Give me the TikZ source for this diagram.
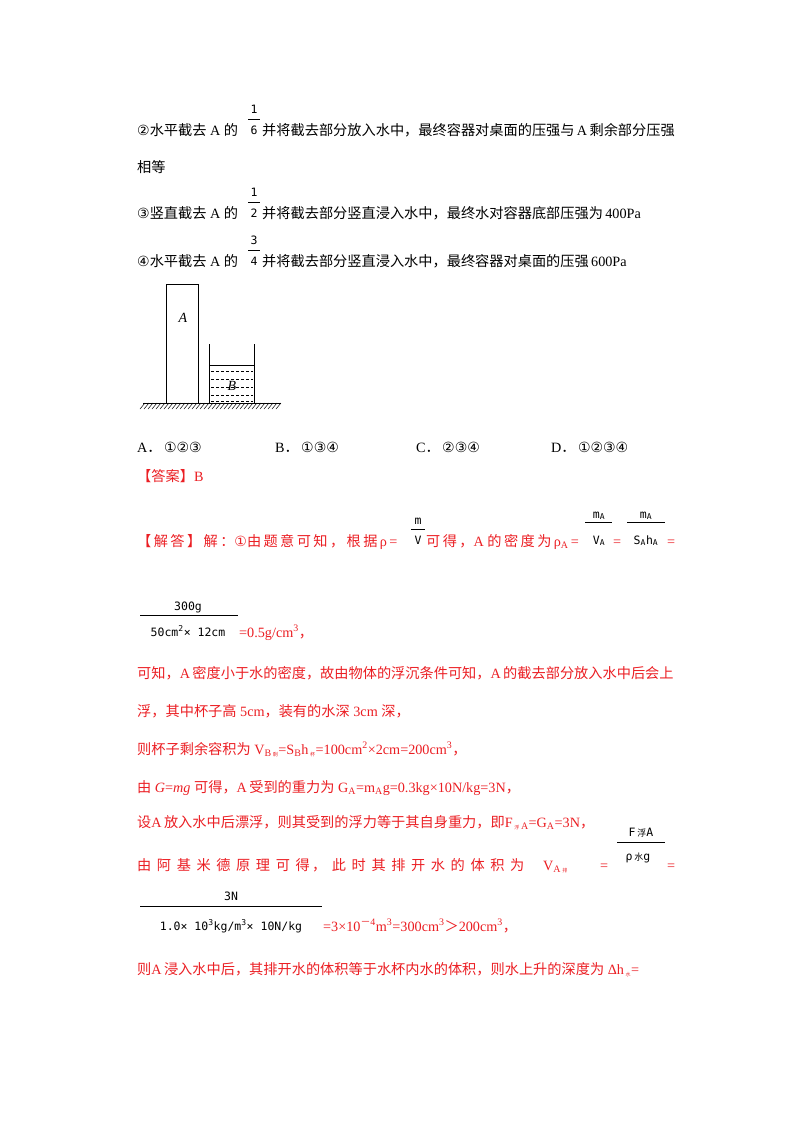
\documentclass[tikz,border=0pt]{standalone}
\usepackage{fontspec}
\setmainfont{Liberation Serif}
\newfontfamily\cjk{Noto Sans CJK SC}
\newfontfamily\cjkwide[LetterSpace=17]{Noto Sans CJK SC}
\newfontfamily\dejavu{DejaVu Sans}
\newfontfamily\mono{DejaVu Sans Mono}
\definecolor{ansred}{RGB}{235,30,35}
\newcommand{\zh}[1]{{\cjk #1}}
\newcommand{\zhw}[1]{{\cjkwide #1}}
\newcommand{\cn}[1]{{\dejavu\fontsize{14}{14}\selectfont #1}}

\begin{document}
\begin{tikzpicture}[x=1pt,y=-1pt,
  line/.style={anchor=base west,inner sep=0pt,font=\fontsize{14.2}{15}\selectfont},
  redline/.style={line,text=ansred},
  frac/.style={anchor=base,inner sep=0pt,font=\mono\fontsize{11.5}{12}\selectfont},
  fracbar/.style={line width=0.7pt}]
\useasboundingbox (0,0) rectangle (800,1132);

% question lines
\node[line] (q2a) at (137,135) {\cn{②}\zh{水平截去}\ A\ \zh{的}};
\node[line] (q2b) at (262,135) {\zh{并将截去部分放入水中，最终容器对桌面的压强与}\,A\,\zh{剩余部分压强}};
\node[line] (q2c) at (137,172) {\zh{相等}};
\node[line] (q3a) at (137,218) {\cn{③}\zh{竖直截去}\ A\ \zh{的}};
\node[line] (q3b) at (262,218) {\zh{并将截去部分竖直浸入水中，最终水对容器底部压强为}\,400Pa};
\node[line] (q4a) at (137,266) {\cn{④}\zh{水平截去}\ A\ \zh{的}};
\node[line] (q4b) at (262,266) {\zh{并将截去部分竖直浸入水中，最终容器对桌面的压强}\,600Pa};
\foreach \n/\d/\y in {1/6/135,1/2/218,3/4/266}{
  \node[frac] at (254,\y-22) {\n};
  \draw[fracbar] (248,\y-16) -- (260,\y-16);
  \node[frac] at (254,\y-1) {\d};
}

% figure
\draw[line width=0.8pt] (166,403) rectangle (198,284);
\node[font=\itshape\fontsize{14}{14}\selectfont] (labA) at (183,318) {A};
\draw[line width=0.8pt] (209,344) -- (209,403) -- (254,403) -- (254,344);
\draw[line width=0.8pt] (209,365) -- (254,365);
\foreach \y in {371,379,387,395,401}
  \draw[dash pattern=on 3pt off 2pt,line width=0.6pt] (211,\y) -- (253,\y);
\node[font=\itshape\fontsize{14}{14}\selectfont] (labB) at (232,386) {B};
\draw[line width=0.8pt] (143,403) -- (281,403);
\foreach \x in {145,149,...,281}
  \draw[line width=0.5pt] (\x,403) -- (\x-5,409);

% options
\node[line] (optA) at (137,452) {A\zh{．}\,\cn{①②③}};
\node[line] (optB) at (275,452) {B\zh{．}\,\cn{①③④}};
\node[line] (optC) at (416,452) {C\zh{．}\,\cn{②③④}};
\node[line] (optD) at (551,452) {D\zh{．}\,\cn{①②③④}};
\node[redline] (ans) at (137,481) {\zh{【答案】}B};

% solution
\node[redline] (s1a) at (137,546) {\zhw{【解答】解：}\cn{①}\zhw{由题意可知，根据}\,ρ\,=};
\node[frac] at (418,524) {m};
\draw[fracbar] (411,529) -- (425,529);
\node[frac] at (418,544) {V};
\node[redline] (s1b) at (426,546) {\zhw{可得，}A\ \zhw{的密度为}\,ρ\textsubscript{A}\,=};
\node[frac] at (599,518) {m\textsubscript{A}};
\draw[fracbar] (585,522) -- (612,522);
\node[frac] at (599,544) {V\textsubscript{A}};
\node[redline] (s1c) at (613,546) {=};
\node[frac] at (646,518) {m\textsubscript{A}};
\draw[fracbar] (627,522) -- (665,522);
\node[frac] at (646,544) {S\textsubscript{A}h\textsubscript{A}};
\node[redline] (s1d) at (667,546) {=};

\node[frac] (num1) at (188,610) {300g};
\draw[fracbar] (140,615) -- (238,615);
\node[frac] (den1) at (188,636) {50cm\textsuperscript{2}× 12cm};
\node[redline] (s2) at (239,637) {=0.5g/cm\textsuperscript{3}\zh{，}};

\node[redline] (s3) at (137,678) {\zh{可知，}A\,\zh{密度小于水的密度，故由物体的浮沉条件可知，}A\,\zh{的截去部分放入水中后会上}};
\node[redline] (s4) at (137,716) {\zh{浮，其中杯子高} 5cm\zh{，装有的水深} 3cm \zh{深，}};
\node[redline] (s5) at (137,754) {\zh{则杯子剩余容积为} V\textsubscript{B\,\zh{\tiny 剩}}=S\textsubscript{B}h\textsubscript{\,\zh{\tiny 杯}}=100cm\textsuperscript{2}×2cm=200cm\textsuperscript{3}\zh{，}};
\node[redline] (s6) at (137,792) {\zh{由} \textit{G}=\textit{mg} \zh{可得，}A\,\zh{受到的重力为} G\textsubscript{A}=m\textsubscript{A}g=0.3kg×10N/kg=3N\zh{，}};
\node[redline] (s7) at (137,827) {\zh{设}A\,\zh{放入水中后漂浮，则其受到的浮力等于其自身重力，即}F\textsubscript{\,\zh{\tiny 浮}\,A}=G\textsubscript{A}=3N\zh{，}};
\node[redline] (s8a) at (137,870) {\zhw{由\ 阿\ 基\ 米\ 德\ 原\ 理\ 可\ 得，\ 此\ 时\ 其\ 排\ 开\ 水\ 的\ 体\ 积\ 为}};
\node[redline] (s8b) at (543,870) {V\textsubscript{A\,\zh{\tiny 排}}};
\node[redline] (s8c) at (600,870) {=};
\node[frac] at (641,836) {F\,\zh{\fontsize{9}{9}\selectfont 浮}A};
\draw[fracbar] (617,842) -- (665,842);
\node[frac] at (638,860) {ρ\,\zh{\fontsize{9}{9}\selectfont 水}g};
\node[redline] (s8d) at (667,870) {=};

\node[frac] (num2) at (231,900) {3N};
\draw[fracbar] (140,906) -- (322,906);
\node[frac] (den2) at (231,930) {1.0× 10\textsuperscript{3}kg/m\textsuperscript{3}× 10N/kg};
\node[redline] (s9) at (323,931) {=3×10\textsuperscript{\zh{－}4}m\textsuperscript{3}=300cm\textsuperscript{3}\zh{＞}200cm\textsuperscript{3}\zh{，}};
\node[redline] (s10) at (137,974) {\zh{则}A\,\zh{浸入水中后，其排开水的体积等于水杯内水的体积，则水上升的深度为} Δh\textsubscript{\,\zh{\tiny 水}}=};
\end{tikzpicture}
\end{document}
